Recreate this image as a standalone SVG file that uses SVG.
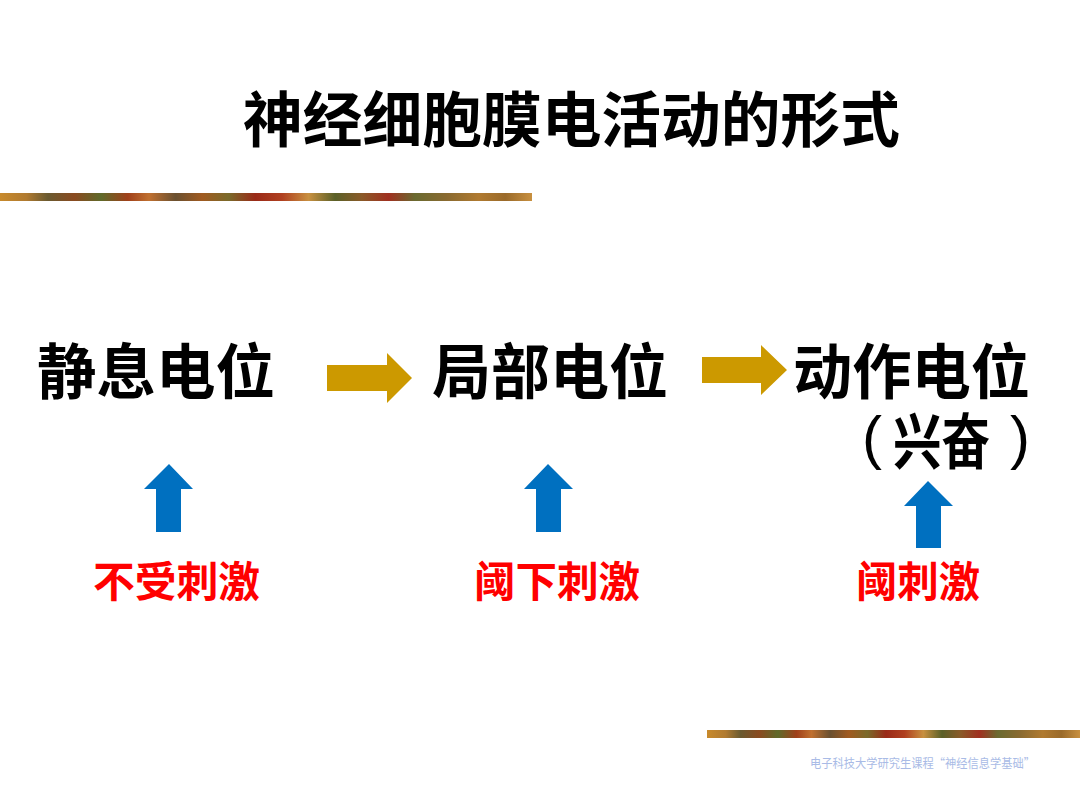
<svg xmlns="http://www.w3.org/2000/svg" width="1080" height="810" viewBox="0 0 1080 810">
<defs>
<style>
.t{font-family:"Noto Sans CJK SC","Noto Sans",sans-serif;font-weight:bold;}
.blk{fill:#000;font-size:60px;}
.par{font-family:"Liberation Sans",Arial,sans-serif;font-weight:normal;fill:#000;font-size:60px;}
.red{fill:#ff0000;font-size:42px;}
.gold{fill:#cc9900;}
.blue{fill:#0070c0;}
.foot{font-family:"Noto Sans CJK SC",sans-serif;font-size:12.5px;fill:#a9bbe6;}
</style>
<linearGradient id="bar" x1="0" y1="0" x2="1" y2="0">
<stop offset="0" stop-color="#c88a2c"/>
<stop offset="0.05" stop-color="#b07a30"/>
<stop offset="0.09" stop-color="#6a5a30"/>
<stop offset="0.14" stop-color="#8a4a20"/>
<stop offset="0.19" stop-color="#5f6a2a"/>
<stop offset="0.24" stop-color="#a0401a"/>
<stop offset="0.28" stop-color="#c07030"/>
<stop offset="0.33" stop-color="#6a5030"/>
<stop offset="0.38" stop-color="#a05a20"/>
<stop offset="0.43" stop-color="#7a6a2a"/>
<stop offset="0.48" stop-color="#9a2a18"/>
<stop offset="0.53" stop-color="#b04020"/>
<stop offset="0.58" stop-color="#c89040"/>
<stop offset="0.63" stop-color="#5a6028"/>
<stop offset="0.68" stop-color="#8a5a28"/>
<stop offset="0.73" stop-color="#a03020"/>
<stop offset="0.78" stop-color="#6a6a30"/>
<stop offset="0.84" stop-color="#8a6a30"/>
<stop offset="0.9" stop-color="#b07a30"/>
<stop offset="0.95" stop-color="#9a6a2a"/>
<stop offset="1" stop-color="#c89040"/>
</linearGradient>
</defs>
<rect width="1080" height="810" fill="#fff"/>
<g id="decor">
<rect x="0" y="193" width="532" height="8" fill="url(#bar)"/>
<rect x="707" y="730" width="373" height="8" fill="url(#bar)"/>
</g>
<g id="title">
<text class="t blk" x="243" y="142" font-size="58" textLength="657" lengthAdjust="spacingAndGlyphs">神经细胞膜电活动的形式</text>
</g>
<g id="node-resting">
<text class="t blk" x="37" y="394" textLength="238" lengthAdjust="spacingAndGlyphs">静息电位</text>
</g>
<g id="node-local">
<text class="t blk" x="432" y="394" textLength="236" lengthAdjust="spacingAndGlyphs">局部电位</text>
</g>
<g id="node-action">
<text class="t blk" x="793" y="394" textLength="237" lengthAdjust="spacingAndGlyphs">动作电位</text>
<text class="par" x="862" y="458">(</text>
<text class="t blk" x="893" y="464" font-size="54" textLength="97" lengthAdjust="spacingAndGlyphs">兴奋</text>
<text class="par" x="1010" y="458">)</text>
</g>
<g id="label-none">
<text class="t red" x="93" y="597" textLength="167" lengthAdjust="spacingAndGlyphs">不受刺激</text>
</g>
<g id="label-sub">
<text class="t red" x="474" y="597" textLength="166" lengthAdjust="spacingAndGlyphs">阈下刺激</text>
</g>
<g id="label-thr">
<text class="t red" x="856" y="597" textLength="124" lengthAdjust="spacingAndGlyphs">阈刺激</text>
</g>
<g id="connectors">
<polygon class="gold" points="327,365 387,365 387,353 412,378 387,403 387,391 327,391"/>
<polygon class="gold" points="702,357 761,357 761,345 787,370 761,395 761,383 702,383"/>
<polygon class="blue" points="156,532 156,489 144,489 169,464 193,489 181,489 181,532"/>
<polygon class="blue" points="536,532 536,489 524,489 548,464 573,489 561,489 561,532"/>
<polygon class="blue" points="916,548 916,506 904,506 928,481 953,506 941,506 941,548"/>
</g>
<g id="footer">
<text class="foot" x="810" y="768" textLength="225" lengthAdjust="spacingAndGlyphs">电子科技大学研究生课程“神经信息学基础”</text>
</g>
</svg>
